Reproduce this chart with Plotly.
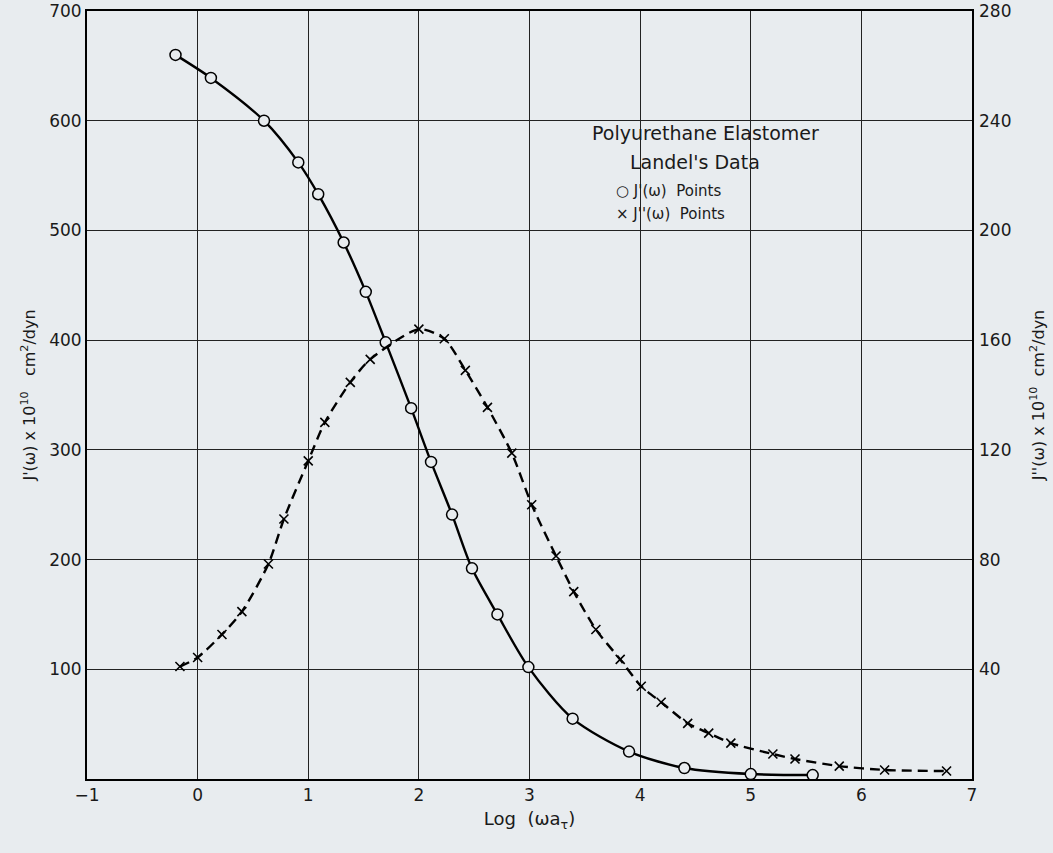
import plotly.graph_objects as go

# J'(omega) points (left axis, x 1e10 cm^2/dyn)
jp_x = [-0.20, 0.12, 0.60, 0.91, 1.09, 1.32, 1.52, 1.70, 1.93, 2.11, 2.30, 2.48,
        2.71, 2.99, 3.39, 3.90, 4.40, 5.00, 5.56]
jp_y = [660, 639, 600, 562, 533, 489, 444, 398, 338, 289, 241, 192,
        150, 102, 55, 25, 10, 4.5, 3.6]

# J''(omega) points (right axis, x 1e10 cm^2/dyn)
jpp_x = [-0.16, 0.00, 0.22, 0.40, 0.64, 0.78, 1.00, 1.15, 1.38, 1.56, 2.00, 2.23,
         2.42, 2.62, 2.84, 3.02, 3.24, 3.40, 3.60, 3.82, 4.01, 4.19, 4.43, 4.62,
         4.82, 5.20, 5.40, 5.80, 6.21, 6.77]
jpp_y = [41.0, 44.3, 52.7, 61.0, 78.4, 94.8, 116.0, 130.0, 144.6, 153.0, 164.0, 160.5,
         149.0, 135.5, 118.8, 100.0, 81.3, 68.3, 54.5, 43.6, 33.8, 28.0, 20.3, 16.7,
         13.1, 9.1, 7.3, 4.7, 3.3, 2.9]

x_ticks = [-1, 0, 1, 2, 3, 4, 5, 6, 7]
left_ticks = [100, 200, 300, 400, 500, 600, 700]
right_ticks = [40, 80, 120, 160, 200, 240, 280]

BG = "#e8ecef"
FONT = "DejaVu Sans"

fig = go.Figure()

fig.add_trace(go.Scatter(
    x=jpp_x, y=jpp_y, yaxis="y2", mode="lines+markers",
    line=dict(color="black", width=2.4, dash="10px,6px", shape="spline", smoothing=0.7),
    marker=dict(symbol="x-thin", size=9, line=dict(color="black", width=1.6)),
    showlegend=False, name="J''(ω) Points"))

fig.add_trace(go.Scatter(
    x=jp_x, y=jp_y, mode="lines+markers",
    line=dict(color="black", width=2.4, shape="spline", smoothing=0.8),
    marker=dict(symbol="circle", size=11, color=BG, line=dict(color="black", width=1.5)),
    showlegend=False, name="J'(ω) Points"))

fig.update_layout(
    width=1053, height=853,
    margin=dict(l=87, r=81, t=11, b=74, autoexpand=False),
    paper_bgcolor=BG, plot_bgcolor=BG,
    font=dict(family=FONT, size=17, color="#1a1a1a"),
    xaxis=dict(range=[-1, 7], tickvals=x_ticks, showgrid=True, gridcolor="#222",
               gridwidth=1.2, zeroline=False, showline=True, linecolor="black",
               linewidth=2, mirror=True, ticks="", ticklen=0, automargin=False,
               title=dict(text="Log  (ωa<sub>τ</sub>)", standoff=8, font=dict(size=18))),
    yaxis=dict(range=[0, 700], tickvals=left_ticks, showgrid=True, gridcolor="#222",
               gridwidth=1.2, zeroline=False, showline=True, linecolor="black",
               linewidth=2, mirror=True, ticks="", ticklabeloverflow="allow",
               automargin=False,
               title=dict(text="J'(ω) x 10<sup>10</sup>   cm<sup>2</sup>/dyn",
                          standoff=10, font=dict(size=16))),
    yaxis2=dict(range=[0, 280], tickvals=right_ticks, overlaying="y", side="right",
                showgrid=False, zeroline=False, showline=False, ticks="",
                ticklabelstandoff=6, ticklabeloverflow="allow", automargin=False,
                title=dict(text="J''(ω) x 10<sup>10</sup>  cm<sup>2</sup>/dyn",
                           standoff=22, font=dict(size=16))),
)

fig.add_annotation(x=4.59, y=589, text="Polyurethane Elastomer", showarrow=False,
                   font=dict(size=19, family=FONT), xanchor="center", yanchor="middle")
fig.add_annotation(x=4.50, y=562, text="Landel's Data", showarrow=False,
                   font=dict(size=19, family=FONT), xanchor="center", yanchor="middle")
fig.add_annotation(x=3.76, y=536, text="○ J'(ω)  Points", showarrow=False,
                   font=dict(size=15, family=FONT), xanchor="left", yanchor="middle")
fig.add_annotation(x=3.76, y=515, text="× J''(ω)  Points", showarrow=False,
                   font=dict(size=15, family=FONT), xanchor="left", yanchor="middle")

fig.write_html("out.html")
